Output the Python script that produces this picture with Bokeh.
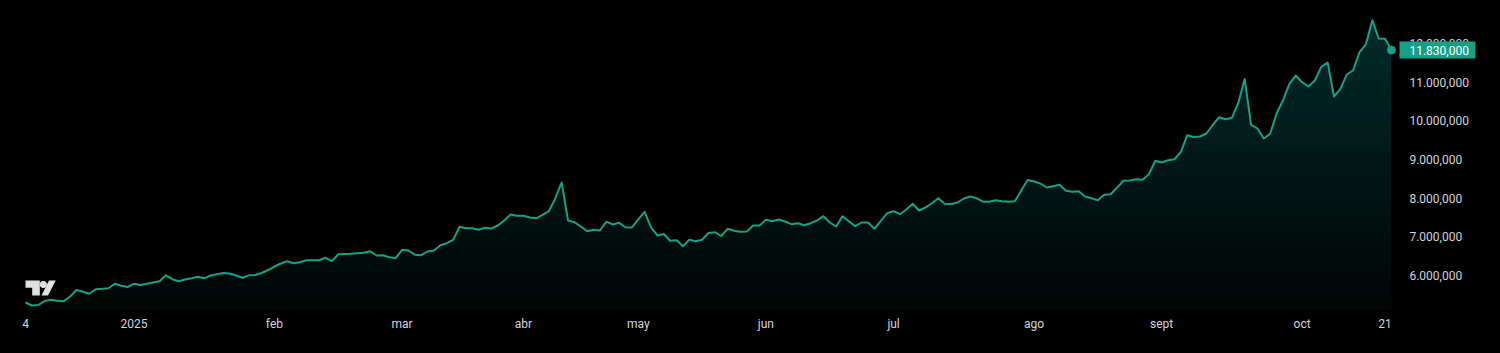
import numpy as np
from bokeh.plotting import figure
from bokeh.models import Range1d, FixedTicker, PolyAnnotation
from bokeh.core.properties import value
from bokeh.embed import file_html
from bokeh.resources import INLINE

# ---- data (price in millions, one value per trading session) ----
price_millions = [
    5.302, 5.224, 5.237, 5.340, 5.374, 5.346, 5.335, 5.457, 5.625, 5.578,
    5.527, 5.646, 5.656, 5.671, 5.785, 5.734, 5.703, 5.788, 5.754, 5.785,
    5.819, 5.853, 6.005, 5.904, 5.853, 5.897, 5.930, 5.969, 5.928, 6.000,
    6.034, 6.065, 6.052, 6.000, 5.943, 6.005, 6.013, 6.065, 6.142, 6.233,
    6.310, 6.370, 6.318, 6.344, 6.396, 6.396, 6.396, 6.458, 6.370, 6.551,
    6.556, 6.561, 6.574, 6.587, 6.626, 6.517, 6.525, 6.473, 6.447, 6.665,
    6.647, 6.535, 6.525, 6.621, 6.647, 6.784, 6.835, 6.923, 7.260, 7.223,
    7.223, 7.185, 7.234, 7.216, 7.293, 7.423, 7.578, 7.544, 7.544, 7.500,
    7.480, 7.570, 7.668, 7.992, 8.406, 7.423, 7.379, 7.267, 7.143, 7.182,
    7.164, 7.392, 7.319, 7.363, 7.249, 7.242, 7.449, 7.648, 7.242, 7.035,
    7.073, 6.898, 6.911, 6.758, 6.923, 6.887, 6.926, 7.099, 7.120, 7.022,
    7.208, 7.156, 7.130, 7.138, 7.293, 7.293, 7.441, 7.405, 7.449, 7.397,
    7.327, 7.353, 7.301, 7.353, 7.423, 7.534, 7.371, 7.267, 7.534, 7.405,
    7.275, 7.371, 7.371, 7.208, 7.415, 7.611, 7.663, 7.586, 7.707, 7.857,
    7.681, 7.759, 7.870, 8.000, 7.855, 7.849, 7.888, 7.992, 8.043, 8.000,
    7.909, 7.906, 7.945, 7.922, 7.906, 7.919, 8.199, 8.470, 8.431, 8.380,
    8.276, 8.310, 8.346, 8.191, 8.165, 8.181, 8.043, 8.000, 7.948, 8.090,
    8.103, 8.268, 8.452, 8.457, 8.491, 8.475, 8.618, 8.969, 8.923, 8.982,
    9.008, 9.194, 9.626, 9.583, 9.595, 9.673, 9.893, 10.095, 10.043, 10.079,
    10.462, 11.083, 9.901, 9.802, 9.544, 9.665, 10.190, 10.527, 10.948, 11.173,
    11.000, 10.889, 11.044, 11.398, 11.510, 10.630, 10.829, 11.199, 11.310, 11.776,
    11.980, 12.604, 12.130, 12.123, 11.830,
]
x_tick_index = [0, 17, 39, 59, 78, 96, 116, 136, 158, 178, 200, 213]
x_tick_labels = ["4", "2025", "feb", "mar", "abr", "may", "jun", "jul", "ago", "sept", "oct", "21"]
y_ticks = [6000000, 7000000, 8000000, 9000000, 10000000, 11000000, 12000000]
y_tick_labels = ["6.000,000", "7.000,000", "8.000,000", "9.000,000",
                 "10.000,000", "11.000,000", "12.000,000"]
last_price_label = "11.830,000"

# ---- styling / layout ----
LINE = "#17a086"
TEXT = "#d1d4dc"
FONT = "Roboto"
W, H = 1500, 353
BORDER_B = 43
STEP = 6.383          # px per session
X_PAD = 25            # px before first session
SCALE_GAP = 18        # px from last session to the price-scale labels
TAG_GAP = 8           # px from last session to the price tag box
TAG_W, TAG_H = 76, 17 # price tag box size in px
x_start = -X_PAD / STEP
x_end = x_start + W / STEP
y_start, y_end = 5.095e6, 13.113e6

price = np.array(price_millions) * 1e6
x = np.arange(len(price))
x_last = int(x[-1])

p = figure(width=W, height=H, output_backend="svg", toolbar_location=None,
           x_range=Range1d(x_start, x_end), y_range=Range1d(y_start, y_end),
           y_axis_location=None,
           min_border=0, min_border_left=0, min_border_top=0,
           min_border_right=0, min_border_bottom=BORDER_B,
           background_fill_color="#000000", border_fill_color="#000000")
p.outline_line_color = None
p.grid.visible = False
p.styles = {"background-color": "#000000"}

# gradient-like area fill (stronger toward the top of the pane)
p.varea(x=x, y1=y_start, y2=price, fill_color=LINE, fill_alpha=0.03)
for L in np.linspace(y_start, y_end, 42)[1:-1]:
    p.varea(x=x, y1=L, y2=np.maximum(price, L), fill_color=LINE, fill_alpha=0.0105)

p.line(x, price, line_color=LINE, line_width=2, line_join="round")
p.scatter([x_last], [price[-1]], size=8, color=LINE, marker="circle")

# time axis
xa = p.xaxis[0]
xa.ticker = FixedTicker(ticks=x_tick_index)
xa.major_label_overrides = dict(zip(x_tick_index, x_tick_labels))
xa.axis_line_color = None
xa.major_tick_line_color = None
xa.minor_tick_line_color = None
xa.major_tick_out = 0
xa.major_tick_in = 0
xa.major_label_standoff = 6
xa.major_label_text_color = TEXT
xa.major_label_text_font = FONT
xa.major_label_text_font_size = "12px"

# price scale labels (right side)
p.text(x=[x_last] * len(y_ticks), y=y_ticks, text=y_tick_labels, x_offset=SCALE_GAP,
       text_align="left", text_baseline="middle", text_color=TEXT,
       text_font=value(FONT), text_font_size="12px")

# last price tag: box + text
p.rect(x=[x_last + (TAG_GAP + TAG_W / 2) / STEP], y=[float(price[-1])],
       width=TAG_W, height=TAG_H, width_units="screen", height_units="screen",
       fill_color=LINE, line_color=None)
p.text(x=[x_last], y=[float(price[-1])], text=[last_price_label], x_offset=SCALE_GAP,
       text_align="left", text_baseline="middle", text_color="#ffffff",
       text_font=value(FONT), text_font_size="12px")

# TradingView logo (screen units, from frame bottom-left)
LOGO = "#e0e0e0"
p.add_layout(PolyAnnotation(xs=[25, 39.3, 39.3, 31.7, 31.7, 25], ys=[30, 30, 15, 15, 22.7, 22.7],
                            xs_units="screen", ys_units="screen",
                            fill_color=LOGO, fill_alpha=1, line_color=None))
t = np.linspace(0, 2 * np.pi, 24, endpoint=False)
p.add_layout(PolyAnnotation(xs=list(42.8 + 3.6 * np.cos(t)), ys=list(26 + 3.6 * np.sin(t)),
                            xs_units="screen", ys_units="screen",
                            fill_color=LOGO, fill_alpha=1, line_color=None))
p.add_layout(PolyAnnotation(xs=[48.5, 55.2, 47.5, 41.0], ys=[30, 30, 15, 15],
                            xs_units="screen", ys_units="screen",
                            fill_color=LOGO, fill_alpha=1, line_color=None))

html = file_html(p, INLINE)
html = html.replace("<head>", "<head><style>html,body{background:#000000;margin:0;}</style>", 1)
open("out.html", "w").write(html)
